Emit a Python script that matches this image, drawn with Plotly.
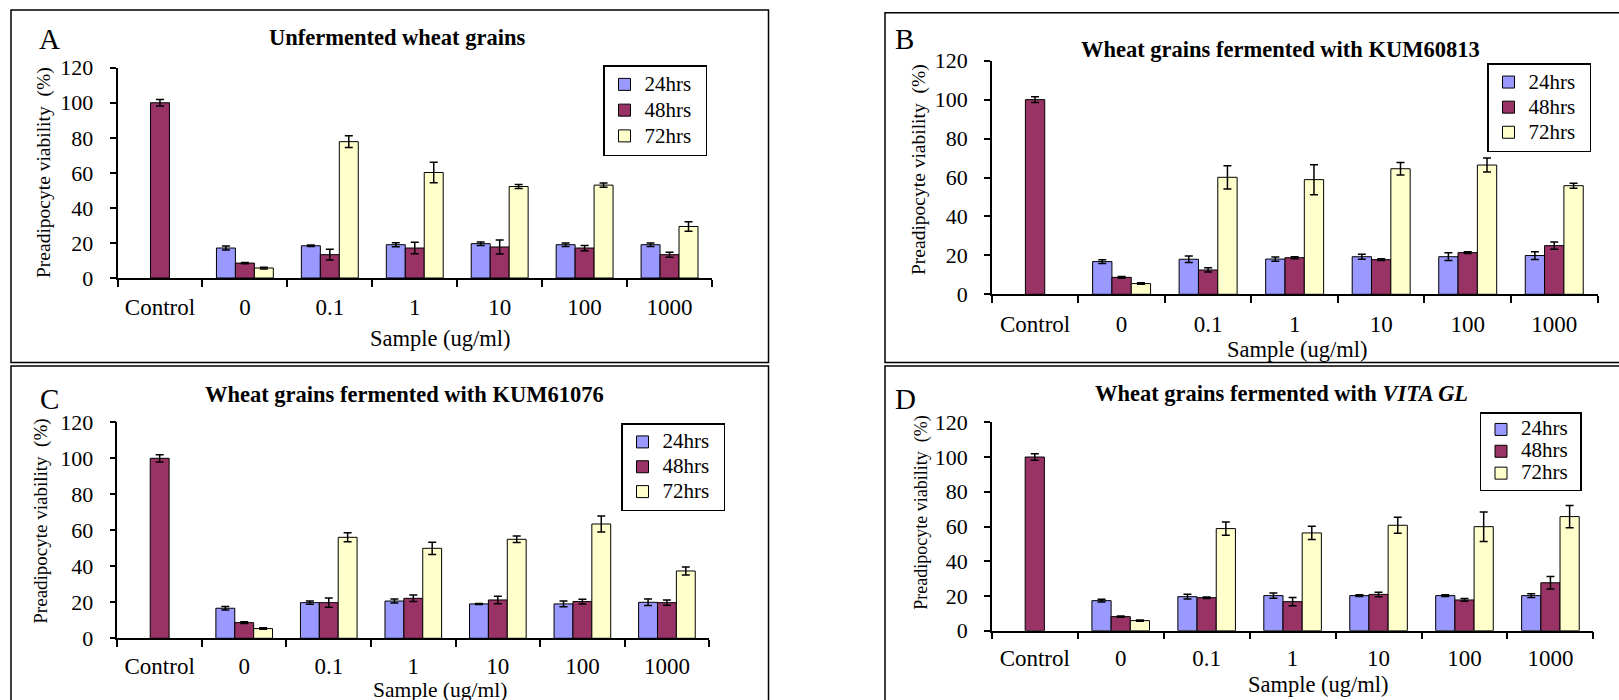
import plotly.graph_objects as go

W, H = 1619, 700
SERIF = "Liberation Serif"

doses = ["Control", "0", "0.1", "1", "10", "100", "1000"]
series_names = ["24hrs", "48hrs", "72hrs"]
series_colors = ["#9999FF", "#993366", "#FFFFCC"]
y_ticks = [0, 20, 40, 60, 80, 100, 120]

# A: unfermented wheat grains
a_24 = [None, 17.1, 18.4, 19.0, 19.6, 19.0, 19.0]
a_24_err = [0, 1.1, 0.4, 1.1, 1.0, 1.0, 1.0]
a_48 = [100.0, 8.5, 13.3, 17.1, 17.7, 17.1, 13.3]
a_48_err = [1.9, 0.3, 3.1, 3.3, 4.0, 1.5, 1.4]
a_72 = [None, 5.7, 77.8, 60.2, 52.2, 53.0, 29.4]
a_72_err = [0, 0.5, 3.3, 5.9, 1.2, 1.2, 2.7]

# B: fermented with KUM60813
b_24 = [None, 16.8, 18.0, 18.1, 19.3, 19.3, 19.9]
b_24_err = [0, 1.0, 1.7, 1.1, 1.3, 2.0, 2.0]
b_48 = [100.0, 8.7, 12.5, 18.8, 17.8, 21.4, 25.0]
b_48_err = [1.5, 0.5, 1.1, 0.5, 0.5, 0.5, 1.9]
b_72 = [None, 5.5, 60.1, 58.9, 64.5, 66.4, 55.8]
b_72_err = [0, 0.4, 6.0, 7.7, 3.2, 3.6, 1.3]

# C: fermented with KUM61076
c_24 = [None, 16.7, 19.8, 20.7, 19.1, 19.1, 20.0]
c_24_err = [0, 1.0, 0.9, 1.1, 0.3, 1.6, 1.8]
c_48 = [100.0, 8.7, 19.8, 22.2, 21.3, 20.4, 19.8]
c_48_err = [2.0, 0.5, 2.6, 1.8, 2.1, 1.3, 1.5]
c_72 = [None, 5.4, 56.1, 50.0, 55.0, 63.5, 37.4]
c_72_err = [0, 0.4, 2.5, 3.4, 1.8, 4.4, 2.2]

# D: fermented with VITA GL
d_24 = [None, 17.3, 19.6, 20.2, 20.2, 20.2, 20.2]
d_24_err = [0, 0.8, 1.4, 1.5, 0.5, 0.5, 1.1]
d_48 = [100.0, 8.1, 19.0, 16.7, 20.9, 17.7, 27.6]
d_48_err = [1.9, 0.4, 0.4, 2.4, 1.3, 0.8, 3.6]
d_72 = [None, 5.8, 58.8, 56.3, 60.7, 59.9, 65.7]
d_72_err = [0, 0.4, 3.8, 3.8, 4.6, 8.5, 6.4]

titles = [
    "Unfermented wheat grains",
    "Wheat grains fermented with KUM60813",
    "Wheat grains fermented with KUM61076",
    "Wheat grains fermented with <i>VITA GL</i>",
]
letters = ["A", "B", "C", "D"]
y_title = "Preadipocyte viability\u00a0 (%)"
x_title = "Sample (ug/ml)"


def px(x):
    return x / W


def py(y):
    return 1 - y / H


# layout geometry of each panel, in pixels
panels = [
    dict(data=[(a_24, a_24_err), (a_48, a_48_err), (a_72, a_72_err)],
         plot=(117.5, 712, 67.7, 278), frame=(11, 768.5, 10, 362.5),
         letter=(49.5, 38.5), title=(397, 37.5), ytitle=(43.5, 172.5, 19.5),
         xtitle=(440, 339, 22.5), xstandoff=8, legend=(603, 65, 17.5)),
    dict(data=[(b_24, b_24_err), (b_48, b_48_err), (b_72, b_72_err)],
         plot=(991.8, 1597.5, 60.7, 294.3), frame=(885, 1640, 12.7, 362.5),
         letter=(904.5, 38.5), title=(1280, 50), ytitle=(919, 169, 19.5),
         xtitle=(1297, 349.5, 22.5), xstandoff=8, legend=(1487, 63, 17)),
    dict(data=[(c_24, c_24_err), (c_48, c_48_err), (c_72, c_72_err)],
         plot=(117.4, 709.2, 422.3, 638.3), frame=(11, 768.5, 366, 720),
         letter=(49, 399), title=(405, 394.5), ytitle=(41, 521.7, 19),
         xtitle=(440, 690, 21.5), xstandoff=6, legend=(621, 423, 16.8)),
    dict(data=[(d_24, d_24_err), (d_48, d_48_err), (d_72, d_72_err)],
         plot=(991.8, 1593.4, 422.3, 630.7), frame=(885, 1640, 366, 720),
         letter=(905.5, 399), title=(1281.5, 393.5), ytitle=(921.5, 513.3, 18),
         xtitle=(1318, 684, 22.5), xstandoff=6, legend=(1479.5, 412, 14.5)),
]

LEGEND_TEXT_SIZE = 21

fig = go.Figure()
annotations = []
shapes = []
layout_axes = {}

for i, p in enumerate(panels):
    n = "" if i == 0 else str(i + 1)
    xref, yref = "x" + n, "y" + n
    legend_id = "legend" + n
    for (vals, errs), name, color in zip(p["data"], series_names, series_colors):
        label = ('<span style="font-size:%dpx">%s</span>\u00a0\u00a0'
                 % (LEGEND_TEXT_SIZE, name))
        fig.add_trace(go.Bar(
            x=doses, y=vals, name=label,
            xaxis=xref, yaxis=yref, legend=legend_id,
            marker=dict(color=color, line=dict(color="black", width=1)),
            error_y=dict(type="data", array=errs, visible=True,
                         color="black", thickness=1.5, width=4),
        ))

    x0, x1, y0, y1 = p["plot"]
    layout_axes["xaxis" + n] = dict(
        domain=[px(x0), px(x1)], anchor=yref, type="category",
        showline=True, linecolor="black", linewidth=1.5,
        ticks="outside", tickson="boundaries", ticklen=7, tickwidth=1.5,
        tickcolor="black", showgrid=False, ticklabelstandoff=p["xstandoff"],
        automargin=False,
        tickfont=dict(family=SERIF, size=23, color="black"),
    )
    layout_axes["yaxis" + n] = dict(
        domain=[py(y1), py(y0)], anchor=xref, range=[0, 120],
        tickvals=y_ticks, showline=True, linecolor="black", linewidth=1.5,
        ticks="outside", ticklen=6, tickwidth=1.5, tickcolor="black",
        showgrid=False, zeroline=False, ticklabelstandoff=12,
        automargin=False,
        tickfont=dict(family=SERIF, size=22, color="black"),
    )

    lx, ly, lsize = p["legend"]
    layout_axes[legend_id] = dict(
        x=px(lx), y=py(ly), xanchor="left", yanchor="top",
        xref="paper", yref="paper",
        bordercolor="black", borderwidth=1.5, bgcolor="white",
        font=dict(family=SERIF, size=lsize, color="black"),
        itemwidth=30, tracegroupgap=0,
    )

    fx0, fx1, fy0, fy1 = p["frame"]
    shapes.append(dict(type="rect", xref="paper", yref="paper",
                       x0=px(fx0), x1=px(fx1), y0=py(fy1), y1=py(fy0),
                       line=dict(color="black", width=1.5),
                       fillcolor="rgba(0,0,0,0)", layer="below"))

    annotations.append(dict(text=letters[i], x=px(p["letter"][0]), y=py(p["letter"][1]),
                            xref="paper", yref="paper", showarrow=False,
                            xanchor="center", yanchor="middle",
                            font=dict(family=SERIF, size=29, color="black")))
    annotations.append(dict(text="<b>" + titles[i] + "</b>",
                            x=px(p["title"][0]), y=py(p["title"][1]),
                            xref="paper", yref="paper", showarrow=False,
                            xanchor="center", yanchor="middle",
                            font=dict(family=SERIF, size=22.5, color="black")))
    tx, ty, tsize = p["ytitle"]
    annotations.append(dict(text=y_title, x=px(tx), y=py(ty), textangle=-90,
                            xref="paper", yref="paper", showarrow=False,
                            xanchor="center", yanchor="middle",
                            font=dict(family=SERIF, size=tsize, color="black")))
    sx, sy, ssize = p["xtitle"]
    annotations.append(dict(text=x_title, x=px(sx), y=py(sy),
                            xref="paper", yref="paper", showarrow=False,
                            xanchor="center", yanchor="middle",
                            font=dict(family=SERIF, size=ssize, color="black")))

fig.update_layout(
    width=W, height=H,
    margin=dict(l=0, r=0, t=0, b=0, pad=0, autoexpand=False),
    paper_bgcolor="white", plot_bgcolor="white",
    barmode="group", bargap=0.33, bargroupgap=0,
    annotations=annotations, shapes=shapes,
    **layout_axes,
)

fig.write_html("out.html")
